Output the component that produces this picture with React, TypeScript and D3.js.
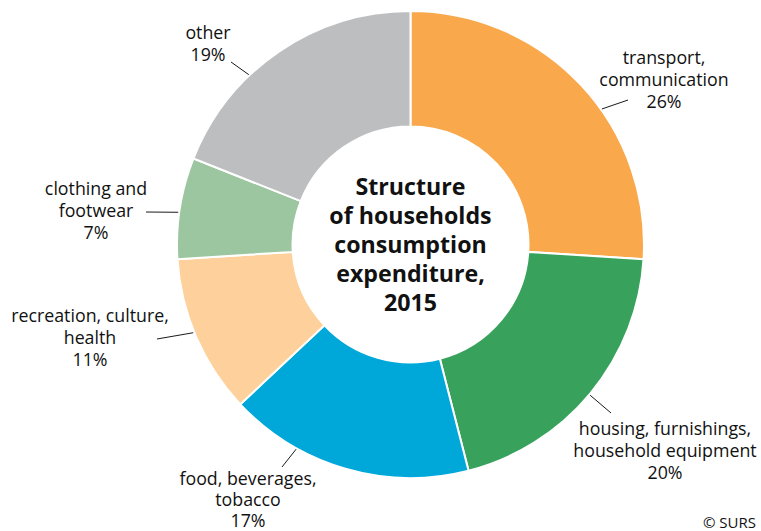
import React from "react";
import * as d3 from "d3";

const categories = [
  "transport, communication",
  "housing, furnishings, household equipment",
  "food, beverages, tobacco",
  "recreation, culture, health",
  "clothing and footwear",
  "other",
];
const values = [26, 20, 17, 11, 7, 19];
const colors = ["#F9A84C", "#38A25C", "#00A8DA", "#FDD09C", "#9BC69F", "#BDBEC0"];
const labelLines = [
  ["transport,", "communication", "26%"],
  ["housing, furnishings,", "household equipment", "20%"],
  ["food, beverages,", "tobacco", "17%"],
  ["recreation, culture,", "health", "11%"],
  ["clothing and", "footwear", "7%"],
  ["other", "19%"],
];
const titleLines = ["Structure", "of households", "consumption", "expenditure,", "2015"];

// layout (positions only)
const W = 761, H = 531;
const cx = 410.5, cy = 244.5, R = 233.5, r = 118;
const labelLayout = [
  { x: 664, y: 64, angle: 54.7, ex: 628, ey: 100, lh: 21.8 },
  { x: 665, y: 435, angle: 130, ex: 611, ey: 413, lh: 21.8 },
  { x: 248, y: 485, angle: 209.2, ex: 282, ey: 467, lh: 21.2 },
  { x: 90, y: 322, angle: 247.9, ex: 157, ey: 339, lh: 21.8 },
  { x: 96, y: 195, angle: 277.9, ex: 146, ey: 212, lh: 21.8 },
  { x: 208, y: 39, angle: 316.4, ex: 231, ey: 62, lh: 21.8 },
];

export default function App() {
  const pie = d3.pie<number>().sort(null).value((d) => d);
  const arcs = pie(values);
  const arc = d3.arc<d3.PieArcDatum<number>>().innerRadius(r).outerRadius(R);
  const font = "'Open Sans', 'Noto Sans', sans-serif";
  return (
    <svg width={W} height={H} style={{ position: "absolute", left: 0, top: 0 }}>
      <rect width={W} height={H} fill="#fff" />
      <g transform={`translate(${cx},${cy})`}>
        {arcs.map((a, i) => (
          <path key={i} d={arc(a) || ""} fill={colors[i]} stroke="#fff" strokeWidth={2} />
        ))}
      </g>
      {labelLayout.map((l, i) => {
        const t = (l.angle * Math.PI) / 180;
        const sx = cx + (R + 1) * Math.sin(t);
        const sy = cy - (R + 1) * Math.cos(t);
        return (
          <g key={i}>
            <line x1={sx} y1={sy} x2={l.ex} y2={l.ey} stroke="#1a1a1a" strokeWidth={1} />
            <text textAnchor="middle" fontFamily={font} fontSize={17.8} fill="#111">
              {labelLines[i].map((s, j) => (
                <tspan key={j} x={l.x} y={l.y + j * l.lh}>{s}</tspan>
              ))}
            </text>
          </g>
        );
      })}
      <text textAnchor="middle" fontFamily={font} fontSize={23.2} fontWeight="bold" fill="#111">
        {titleLines.map((s, j) => (
          <tspan key={j} x={cx} y={195 + j * 29}>{s}</tspan>
        ))}
      </text>
      <text x={756} y={528} textAnchor="end" fontFamily={font} fontSize={15} fill="#111">© SURS</text>
    </svg>
  );
}
